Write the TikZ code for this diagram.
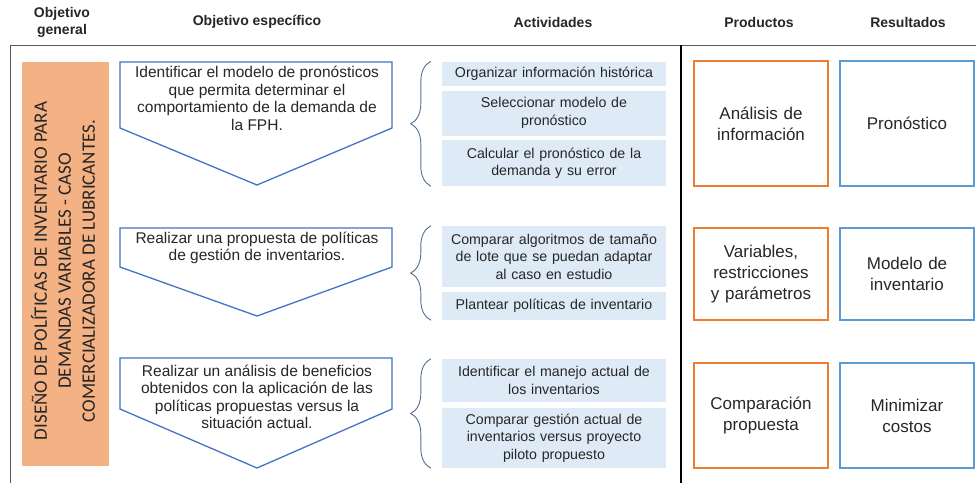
\documentclass[tikz,border=0pt]{standalone}
\usepackage{fontspec}
\setmainfont{Liberation Sans}
\newfontfamily\goalfont{Carlito}
\usetikzlibrary{decorations.pathreplacing}
\definecolor{goalfill}{HTML}{F4B183}
\definecolor{objblue}{HTML}{4472C4}
\definecolor{bracecol}{HTML}{52708F}
\definecolor{actfill}{HTML}{DEEBF7}
\definecolor{prodorange}{HTML}{ED7D31}
\definecolor{resblue}{HTML}{5B9BD5}
\definecolor{txt}{HTML}{262626}
\tikzset{
	hdr/.style={font=\bfseries\fontsize{14}{17}\selectfont, align=center, text=txt},
	objtext/.style={font=\fontsize{15.5}{17.5}\selectfont, align=center, text=txt},
	objline/.style={draw=objblue, line width=1.3pt, line join=miter},
	act/.style={fill=actfill, minimum width=224pt, text width=218pt, inner sep=0pt, align=center, text=txt, font=\fontsize{14.2}{17.5}\selectfont},
	brc/.style={draw=bracecol, line width=0.9pt, decorate, decoration={brace, amplitude=20pt}},
	prod/.style={draw=prodorange, line width=1.7pt, minimum width=134pt, text width=128pt, inner sep=0pt, align=center, text=txt, font=\fontsize{17}{21}\selectfont},
	res/.style={prod, draw=resblue},
	goalbox/.style={fill=goalfill, minimum width=87pt, minimum height=404pt, inner sep=0pt},
	goaltext/.style={rotate=90, inner sep=0pt, align=center, text=txt, font=\goalfont\fontsize{19}{24}\selectfont}
}
\begin{document}
\begin{tikzpicture}[x=1pt, y=-1pt]
		\useasboundingbox (0,0) rectangle (976,483);
		%%%%% HEADERS %%%%%
		\node[hdr] (hgoal) at (62,22) {Objetivo\\general};
		\node[hdr] (hobj) at (257,22) {Objetivo específico};
		\node[hdr] (hact) at (553,22) {Actividades};
		\node[hdr] (hprod) at (759,22) {Productos};
		\node[hdr] (hres) at (908,22) {Resultados};
		
		%%%%% FRAME %%%%%
		\draw[black!65, line width=0.9pt] (10,483) -- (10,45) -- (976,45);
		\draw[black, line width=1.8pt] (681,45) -- (681,483);
		
		%%%%% GENERAL GOAL %%%%%
		\node[goalbox] (goal) at (65.5,264) {};
		\node[goaltext] (goaltxt) at (63,271) {DISEÑO DE POLÍTICAS DE INVENTARIO PARA\\DEMANDAS VARIABLES - CASO\\COMERCIALIZADORA DE LUBRICANTES.};
		
		%%%%% SPECIFIC GOALS %%%%%
		\draw[objline] (120,62) -- (392,62) -- (392,128) -- (257,185) -- (120,128) -- cycle;
		\node[objtext] (obj1) at (257,98.5) {Identificar el modelo de pronósticos\\que permita determinar el\\comportamiento de la demanda de\\la FPH.};
		
		\draw[objline] (120,228) -- (392,228) -- (392,267) -- (257,316) -- (120,267) -- cycle;
		\node[objtext] (obj2) at (257,248) {Realizar una propuesta de políticas\\de gestión de inventarios.};
		
		\draw[objline] (120,358) -- (392,358) -- (392,409) -- (257,468) -- (120,409) -- cycle;
		\node[objtext] (obj3) at (257,397) {Realizar un análisis de beneficios\\obtenidos con la aplicación de las\\políticas propuestas versus la\\situación actual.};
		
		%%%%% ACTIVITIES %%%%%
		\node[act, minimum height=24pt] (act1a) at (554,73.5) {Organizar información histórica};
		\node[act, minimum height=45pt] (act1b) at (554,113) {Seleccionar modelo de\\pronóstico};
		\node[act, minimum height=46pt] (act1c) at (554,163) {Calcular el pronóstico de la\\demanda y su error};
		\draw[brc] ([xshift=-11pt]act1c.south west) -- ([xshift=-11pt]act1a.north west);
		
		\node[act, minimum height=61pt] (act2a) at (554,256.5) {Comparar algoritmos de tamaño\\de lote que se puedan adaptar\\al caso en estudio};
		\node[act, minimum height=28pt] (act2b) at (554,306) {Plantear políticas de inventario};
		\draw[brc] ([xshift=-11pt]act2b.south west) -- ([xshift=-11pt]act2a.north west);
		
		\node[act, minimum height=43pt] (act3a) at (554,380.5) {Identificar el manejo actual de\\los inventarios};
		\node[act, minimum height=60pt] (act3b) at (554,438) {Comparar gestión actual de\\inventarios versus proyecto\\piloto propuesto};
		\draw[brc] ([xshift=-11pt]act3b.south west) -- ([xshift=-11pt]act3a.north west);
		
		%%%%% PRODUCTS %%%%%
		\node[prod, minimum height=125pt] (prod1) at (761,123.5) {Análisis de\\información};
		\node[prod, minimum height=92pt] (prod2) at (761,274) {Variables,\\restricciones\\y parámetros};
		\node[prod, minimum height=105pt] (prod3) at (761,415.5) {Comparación\\propuesta};
		
		%%%%% RESULTS %%%%%
		\node[res, minimum height=125pt] (res1) at (907,123.5) {Pronóstico};
		\node[res, minimum height=92pt] (res2) at (907,274) {Modelo de\\inventario};
		\node[res, minimum height=105pt] (res3) at (907,415.5) {Minimizar\\costos};
		
		%%%%% END %%%%%
	\end{tikzpicture}
\end{document}
